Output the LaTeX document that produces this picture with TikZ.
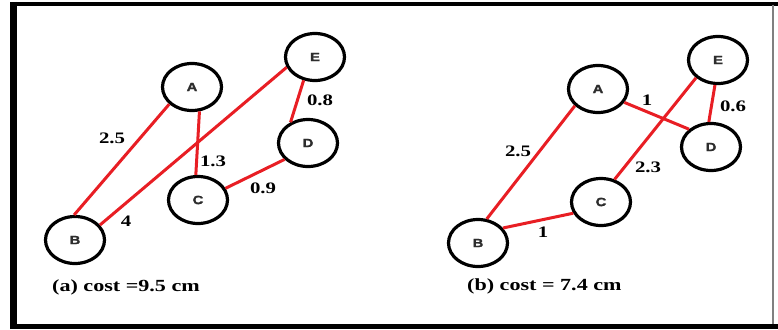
\documentclass[tikz,border=0pt]{standalone}
\usepackage{fontspec}
\usetikzlibrary{shapes.geometric}
\newfontfamily\lblfont{Liberation Serif}[FakeStretch=1.3]
\newfontfamily\letfont{Liberation Sans}[FakeStretch=1.25,FakeBold=1.5]
\definecolor{edgered}{RGB}{232,30,36}
\definecolor{lettergray}{RGB}{45,45,45}
\begin{document}
\begin{tikzpicture}[x=1pt,y=-1pt,
  vtx/.style={ellipse,draw=black,line width=3.2pt,minimum width=59pt,minimum height=47pt,inner sep=0pt,
    font=\letfont\bfseries\fontsize{12}{12}\selectfont,text=lettergray},
  edge/.style={draw=edgered,line width=3pt},
  wlabel/.style={font=\lblfont\bfseries\fontsize{16}{16}\selectfont,inner sep=0pt},
  caption/.style={font=\lblfont\bfseries\fontsize{17}{17}\selectfont,inner sep=0pt,anchor=west}]
\useasboundingbox (0,0) rectangle (778,329);
% frame
\coordinate (ftl) at (10,4);
\coordinate (ftr) at (778,4);
\coordinate (fbl) at (10,326.5);
\coordinate (fbr) at (778,326.5);
\draw[line width=4pt] (ftl) -- (ftr);
\draw[line width=5pt] (fbl) -- (fbr);
\draw[line width=7pt] (13.5,2) -- (13.5,329);
\draw[line width=1.5pt,gray] (773,5) -- (773,324);
% ---------- panel (a)
\node[vtx] (aA) at (192,87) {A};
\node[vtx] (aE) at (315,57) {E};
\node[vtx] (aD) at (308,143) {D};
\node[vtx] (aC) at (198,200) {C};
\node[vtx] (aB) at (75,240) {B};
\draw[edge] (aA.217) -- (aB.92);
\draw[edge] (aA.287) -- (aC.95);
\draw[edge] (aB.31) -- (aE.200);
\draw[edge] (aE.244) -- (aD.130);
\draw[edge] (aD.215) -- (aC.23);
\node[wlabel] (la1) at (112,138) {2.5};
\node[wlabel] (la2) at (213,161) {1.3};
\node[wlabel] (la3) at (320,100) {0.8};
\node[wlabel] (la4) at (263,188) {0.9};
\node[wlabel] (la5) at (126,221) {4};
\node[caption] (capa) at (52,287) {(a) cost =9.5 cm};
% ---------- panel (b)
\node[vtx] (bA) at (598,89) {A};
\node[vtx] (bE) at (718,60) {E};
\node[vtx] (bD) at (711,147) {D};
\node[vtx] (bC) at (601,202) {C};
\node[vtx] (bB) at (478,243) {B};
\draw[edge] (bA.216) -- (bB.70);
\draw[edge] (bA.333) -- (bD.141);
\draw[edge] (bE.219) -- (bC.59);
\draw[edge] (bE.263) -- (bD.95);
\draw[edge] (bB.31) -- (bC.202);
\node[wlabel] (lb1) at (647,100) {1};
\node[wlabel] (lb2) at (733,106) {0.6};
\node[wlabel] (lb3) at (518,151) {2.5};
\node[wlabel] (lb4) at (648,167) {2.3};
\node[wlabel] (lb5) at (543,232) {1};
\node[caption] (capb) at (467,286) {(b) cost = 7.4 cm};
\end{tikzpicture}
\end{document}
